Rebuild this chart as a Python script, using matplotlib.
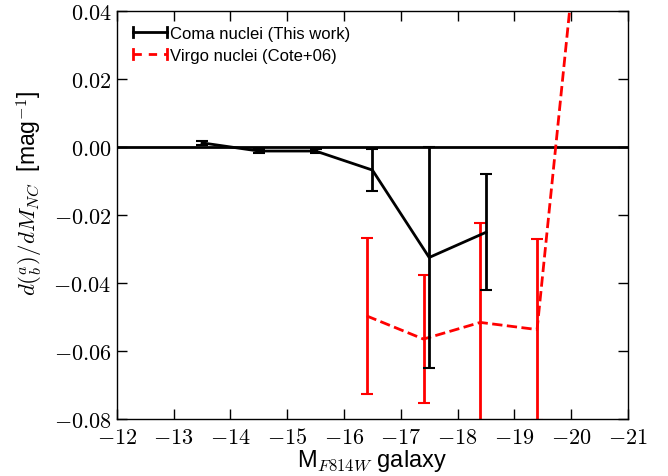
import matplotlib
matplotlib.use("Agg")
import matplotlib.pyplot as plt
from matplotlib.ticker import FuncFormatter, MultipleLocator
from matplotlib.legend_handler import HandlerBase
from matplotlib.lines import Line2D

plt.rcParams['mathtext.fontset'] = 'cm'
plt.rcParams['font.family'] = ['Liberation Sans', 'DejaVu Sans']

# Coma nuclei (This work)
coma_x = [-13.5, -14.5, -15.5, -16.5, -17.5, -18.5]
coma_y = [0.0012, -0.0012, -0.0012, -0.0068, -0.0325, -0.0251]
coma_err = [0.0005, 0.0005, 0.0005, 0.0062, 0.0325, 0.0170]

# Virgo nuclei (Cote+06)
virgo_x = [-16.4, -17.4, -18.4, -19.4, -20.4]
virgo_y = [-0.0497, -0.0565, -0.0516, -0.0537, 0.110]
virgo_err = [0.0230, 0.0187, 0.0292, 0.0265, 0.030]


class HandlerCapLine(HandlerBase):
    def __init__(self, color, ls):
        super().__init__()
        self.color = color
        self.ls = ls

    def create_artists(self, legend, orig_handle, xdescent, ydescent,
                       width, height, fontsize, trans):
        yc = height / 2.0 - ydescent
        h = 0.45 * height
        x0, x1 = -xdescent + 1, -xdescent + width - 1
        line = Line2D([x0, x1], [yc, yc], color=self.color, lw=2, ls=self.ls,
                      dashes=(3, 2.5) if self.ls == '--' else (None, None))
        capl = Line2D([x0, x0], [yc - h, yc + h], color=self.color, lw=2)
        capr = Line2D([x1, x1], [yc - h, yc + h], color=self.color, lw=2)
        for a in (line, capl, capr):
            a.set_transform(trans)
        return [line, capl, capr]


fig = plt.figure(figsize=(6.68, 4.77), dpi=100)
ax = fig.add_axes([0.175, 0.1195, 0.765, 0.8555])

ax.axhline(0.0, color='black', lw=2, zorder=1)

c1 = ax.errorbar(coma_x, coma_y, yerr=coma_err, color='black', lw=2,
                 elinewidth=2, capsize=4, capthick=1.5,
                 label='Coma nuclei (This work)', zorder=3)
c2 = ax.errorbar(virgo_x, virgo_y, yerr=virgo_err, color='red', lw=2, ls='--',
                 elinewidth=2, capsize=4, capthick=1.5,
                 label='Virgo nuclei (Cote+06)', zorder=2)

ax.set_xlim(-12, -21)
ax.set_ylim(-0.08, 0.04)
ax.xaxis.set_major_locator(MultipleLocator(1))
ax.yaxis.set_major_locator(MultipleLocator(0.02))
ax.xaxis.set_major_formatter(FuncFormatter(lambda v, p: r'$%d$' % round(v)))
ax.yaxis.set_major_formatter(FuncFormatter(lambda v, p: r'$%.2f$' % (0.0 if abs(v) < 1e-9 else v)))

ax.tick_params(direction='in', length=7, width=1, top=True, right=True,
               labelsize=16)
ax.tick_params(axis='y', pad=4)
ax.tick_params(axis='x', pad=6)
for s in ax.spines.values():
    s.set_linewidth(1)

ax.set_xlabel(r'M$_{F814W}$ galaxy', fontsize=17, labelpad=-1)
ax.set_ylabel(r'$d(^{a}_{b})/dM_{NC}$  [mag$^{-1}$]', fontsize=16.5)
ax.yaxis.set_label_coords(-0.14, 0.556)

leg = ax.legend(handles=[c1, c2], loc='upper left', frameon=False, fontsize=12,
                handlelength=2.2, handletextpad=0.1, borderaxespad=0.5,
                labelspacing=0.4,
                handler_map={c1: HandlerCapLine('black', '-'),
                             c2: HandlerCapLine('red', '--')})

fig.savefig('out.png', dpi=100)
